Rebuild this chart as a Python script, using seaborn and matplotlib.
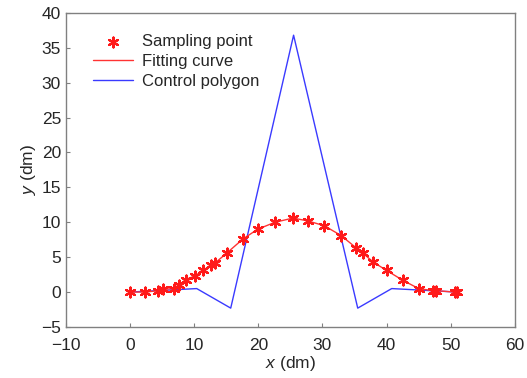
import numpy as np
import pandas as pd
import matplotlib
matplotlib.use("Agg")
import matplotlib.pyplot as plt
import seaborn as sns

sample_x = [0.0, 2.4, 4.4, 5.2, 6.8, 7.7, 8.7, 10.1, 11.4, 12.7, 13.3, 15.1, 17.6,
            19.9, 22.6, 25.4, 27.7, 30.3, 32.9, 35.3, 36.3, 37.9, 40.0, 42.5,
            45.0, 47.2, 47.7, 50.6, 51.0]
sample_y = [0.0, 0.0, 0.2, 0.4, 0.5, 1.0, 1.8, 2.3, 3.1, 3.9, 4.2, 5.6, 7.6,
            9.0, 10.0, 10.6, 10.2, 9.5, 8.1, 6.3, 5.6, 4.3, 3.1, 1.7,
            0.5, 0.2, 0.2, 0.0, 0.0]

# control polygon vertices
ctrl_x = [0.0, 10.4, 15.7, 25.5, 35.5, 40.8, 51.0]
ctrl_y = [0.0, 0.5, -2.3, 36.8, -2.3, 0.5, 0.0]

samples = pd.DataFrame({"x": sample_x, "y": sample_y})
ctrl = pd.DataFrame({"x": ctrl_x, "y": ctrl_y})

sns.set_style("white")
plt.rcParams['font.family'] = ['Liberation Sans', 'DejaVu Sans']
plt.rcParams['mathtext.fontset'] = 'custom'
plt.rcParams['mathtext.it'] = 'Liberation Sans:italic'

fig = plt.figure(figsize=(5.27, 3.78), dpi=100)
ax = fig.add_axes([0.125, 0.135, 0.852, 0.831])

# MATLAB style asterisk marker
sns.scatterplot(data=samples, x="x", y="y", ax=ax, marker=(6, 2, 0), s=50,
                color="#ff1a1a", edgecolor="#ff1a1a", linewidth=1.6,
                label="Sampling point", zorder=3)
sns.lineplot(data=samples, x="x", y="y", ax=ax, color="#ff3333", lw=1.0,
             label="Fitting curve", sort=False, zorder=2)
sns.lineplot(data=ctrl, x="x", y="y", ax=ax, color="#3a3aff", lw=1.0,
             label="Control polygon", sort=False, zorder=1)

ax.set_xlim(-10, 60)
ax.set_ylim(-5, 40)
ax.set_xticks(range(-10, 61, 10))
ax.set_yticks(range(-5, 41, 5))
ax.tick_params(direction="in", length=3, labelsize=12.5, color="#808080",
               left=True, bottom=True)
ax.tick_params(axis="x", pad=8)
for sp in ax.spines.values():
    sp.set_color("#808080")
    sp.set_linewidth(1.0)

ax.set_xlabel("$\\mathit{x}$ (dm)", fontsize=12.5, labelpad=1)
ax.set_ylabel("$\\mathit{y}$ (dm)", fontsize=12.5, labelpad=2)

leg = ax.legend(loc="upper left", frameon=False, fontsize=12, handlelength=2.4,
                borderaxespad=0.3, labelspacing=0.3, handletextpad=0.5,
                bbox_to_anchor=(0.035, 0.97))

fig.savefig("out.png", dpi=100)
